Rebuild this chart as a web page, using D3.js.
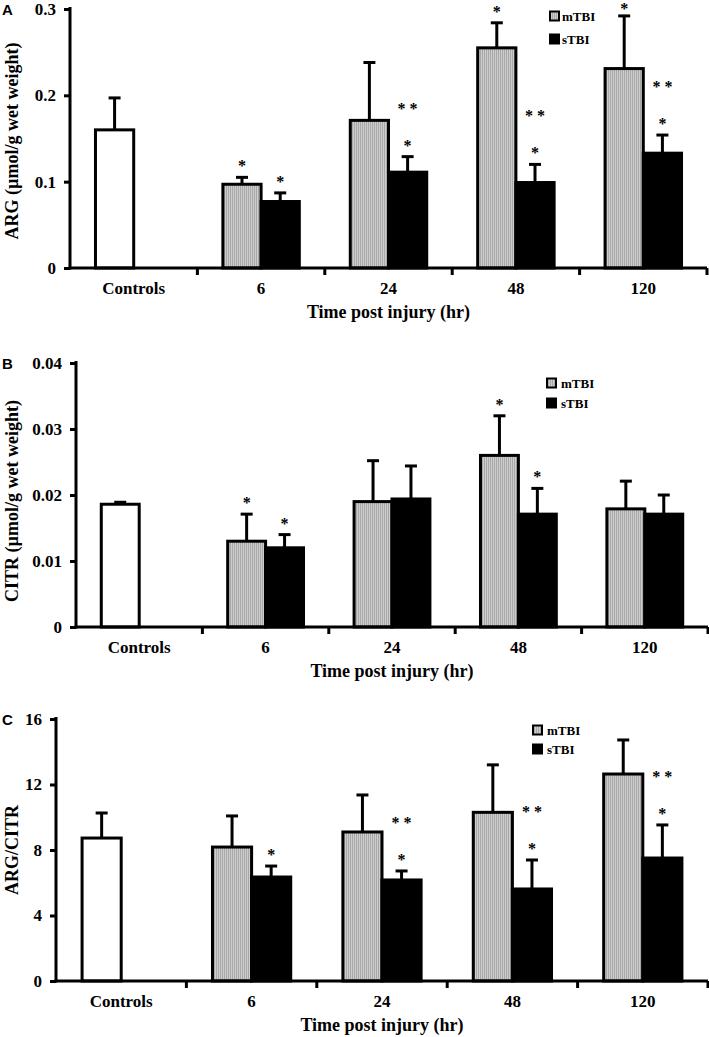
<!DOCTYPE html>
<html>
<head>
<meta charset="utf-8">
<script src="https://cdn.jsdelivr.net/npm/d3@7"></script>
<style>
  html, body { margin: 0; padding: 0; background: #fff; }
  svg { display: block; }
  text { font-family: "Liberation Serif", "Times New Roman", serif; font-weight: bold; fill: #000; }
</style>
</head>
<body>
<svg id="chart" width="709" height="1037"></svg>
<script>
// ---------------- DATA ----------------
const categories = ["Controls", "6", "24", "48", "120"];
const seriesNames = ["mTBI", "sTBI"];
const xTitle = "Time post injury (hr)";

// Panel A: ARG
const argControl = [0.160];
const argControlUpper = [0.197];
const argM = [0.097, 0.171, 0.255, 0.231];
const argMUpper = [0.105, 0.238, 0.284, 0.292];
const argS = [0.077, 0.111, 0.099, 0.133];
const argSUpper = [0.087, 0.129, 0.120, 0.154];
const argMSig = [["*"], [], ["*"], ["*"]];
const argSSig = [["*"], ["*", "**"], ["*", "**"], ["*", "**"]];
const argTicks = [0, 0.1, 0.2, 0.3];
const argTickLabels = ["0", "0.1", "0.2", "0.3"];

// Panel B: CITR
const citrControl = [0.0186];
const citrControlUpper = [0.0189];
const citrM = [0.0130, 0.0190, 0.0260, 0.0179];
const citrMUpper = [0.0171, 0.0252, 0.0320, 0.0221];
const citrS = [0.0120, 0.0194, 0.0171, 0.0171];
const citrSUpper = [0.0140, 0.0244, 0.0210, 0.0200];
const citrMSig = [["*"], [], ["*"], []];
const citrSSig = [["*"], [], ["*"], []];
const citrTicks = [0, 0.01, 0.02, 0.03, 0.04];
const citrTickLabels = ["0", "0.01", "0.02", "0.03", "0.04"];

// Panel C: ARG/CITR
const ratioControl = [8.73];
const ratioControlUpper = [10.26];
const ratioM = [8.18, 9.10, 10.30, 12.64];
const ratioMUpper = [10.08, 11.36, 13.20, 14.72];
const ratioS = [6.35, 6.17, 5.62, 7.51];
const ratioSUpper = [7.02, 6.72, 7.39, 9.53];
const ratioMSig = [[], [], [], []];
const ratioSSig = [["*"], ["*", "**"], ["*", "**"], ["*", "**"]];
const ratioTicks = [0, 4, 8, 12, 16];
const ratioTickLabels = ["0", "4", "8", "12", "16"];

// ---------------- LAYOUT ----------------
const panels = [
  { letter: "A", yLabel: "ARG (\u00B5mol/g wet weight)", yLabelY: 141,
    left: 70, right: 707, bottom: 268, top: 9, max: 0.3,
    ticks: argTicks, tickLabels: argTickLabels,
    ctrl: argControl, ctrlUp: argControlUpper,
    m: argM, mUp: argMUpper, s: argS, sUp: argSUpper, mSig: argMSig, sSig: argSSig,
    legendX: 550, legendY: 16, legendGap: 23, legendTextX: 562, starGap: 37 },
  { letter: "B", yLabel: "CITR (\u00B5mol/g wet weight)", yLabelY: 501,
    left: 76, right: 708, bottom: 627, top: 363, max: 0.04,
    ticks: citrTicks, tickLabels: citrTickLabels,
    ctrl: citrControl, ctrlUp: citrControlUpper,
    m: citrM, mUp: citrMUpper, s: citrS, sUp: citrSUpper, mSig: citrMSig, sSig: citrSSig,
    legendX: 547, legendY: 383, legendGap: 20, legendTextX: 561, starGap: 37 },
  { letter: "C", yLabel: "ARG/CITR", yLabelY: 850,
    left: 56, right: 708, bottom: 981, top: 719, max: 16,
    ticks: ratioTicks, tickLabels: ratioTickLabels,
    ctrl: ratioControl, ctrlUp: ratioControlUpper,
    m: ratioM, mUp: ratioMUpper, s: ratioS, sUp: ratioSUpper, mSig: ratioMSig, sSig: ratioSSig,
    legendX: 533, legendY: 730, legendGap: 19, legendTextX: 547, starGap: 37 }
];

const svg = d3.select("#chart");
const defs = svg.append("defs");
const pat = defs.append("pattern").attr("id", "hatch")
  .attr("patternUnits", "userSpaceOnUse").attr("width", 2).attr("height", 4);
pat.append("rect").attr("width", 2).attr("height", 4).attr("fill", "#cdcdcd");
pat.append("rect").attr("width", 1).attr("height", 4).attr("fill", "#a8a8a8");

const SW = 3;

panels.forEach(p => {
  const g = svg.append("g");
  const x = d3.scaleBand().domain(categories).range([p.left, p.right]).padding(0);
  const y = d3.scaleLinear().domain([0, p.max]).range([p.bottom, p.top]);
  const bw = x.bandwidth() * 0.3;
  const slotX = (cat, i) => x(cat) + x.bandwidth() / 2 - bw + i * bw;

  const bars = [];
  bars.push({ cat: categories[0], slot: 0, v: p.ctrl[0], up: p.ctrlUp[0], fill: "#fff", sig: [] });
  categories.slice(1).forEach((c, i) => {
    bars.push({ cat: c, slot: 0, v: p.m[i], up: p.mUp[i], fill: "url(#hatch)", sig: p.mSig[i] });
    bars.push({ cat: c, slot: 1, v: p.s[i], up: p.sUp[i], fill: "#000", sig: p.sSig[i] });
  });

  // error bars
  bars.forEach(b => {
    const cx = slotX(b.cat, b.slot) + bw / 2;
    g.append("line").attr("x1", cx).attr("x2", cx).attr("y1", y(b.v)).attr("y2", y(b.up))
      .attr("stroke", "#000").attr("stroke-width", SW);
    g.append("line").attr("x1", cx - 6).attr("x2", cx + 6).attr("y1", y(b.up)).attr("y2", y(b.up))
      .attr("stroke", "#000").attr("stroke-width", SW);
  });

  // bars
  g.selectAll("rect.bar").data(bars).enter().append("rect").attr("class", "bar")
    .attr("x", d => slotX(d.cat, d.slot))
    .attr("y", d => y(d.v))
    .attr("width", bw)
    .attr("height", d => y(0) - y(d.v))
    .attr("fill", d => d.fill)
    .attr("stroke", "#000").attr("stroke-width", SW);

  // significance stars
  bars.forEach(b => {
    const cx = slotX(b.cat, b.slot) + bw / 2;
    b.sig.forEach((s, k) => {
      const cy = Math.max(6, y(b.up) - 14 - k * p.starGap);
      g.append("text").attr("x", cx).attr("y", cy + 8)
        .attr("text-anchor", "middle").style("font-size", "16px")
        .text(s === "**" ? "* *" : "*");
    });
  });

  // y axis
  const yAxis = d3.axisLeft(y).tickValues(p.ticks)
    .tickFormat((d, i) => p.tickLabels[i]).tickSize(6).tickSizeOuter(0).tickPadding(8);
  const ya = g.append("g").attr("transform", `translate(${p.left},0)`).call(yAxis);
  ya.select(".domain").attr("stroke-width", SW).attr("d", `M0,${p.bottom + 1.5}V${p.top - 2}`);
  ya.selectAll(".tick line").attr("stroke-width", SW);
  ya.selectAll(".tick text").style("font-size", "17px")
    .style("font-family", '"Liberation Serif", "Times New Roman", serif').style("font-weight", "bold");

  // x axis
  const xAxis = d3.axisBottom(x).tickSize(0).tickPadding(14).tickSizeOuter(0);
  const xa = g.append("g").attr("transform", `translate(0,${p.bottom})`).call(xAxis);
  xa.select(".domain").attr("stroke-width", SW).attr("d", `M${p.left - 1.5},0H${p.right}`);
  xa.selectAll(".tick text").style("font-size", "17px")
    .style("font-family", '"Liberation Serif", "Times New Roman", serif').style("font-weight", "bold");
  g.selectAll("line.xt").data(categories).enter().append("line").attr("class", "xt")
    .attr("x1", d => x(d) + x.bandwidth()).attr("x2", d => x(d) + x.bandwidth())
    .attr("y1", p.bottom).attr("y2", p.bottom + 7)
    .attr("stroke", "#000").attr("stroke-width", SW);

  // x title
  g.append("text").attr("x", (p.left + p.right) / 2).attr("y", p.bottom + 50)
    .attr("text-anchor", "middle").style("font-size", "18px").text(xTitle);

  // y title
  g.append("text").attr("transform", `translate(18,${p.yLabelY}) rotate(-90)`)
    .attr("text-anchor", "middle").style("font-size", "18px").text(p.yLabel);

  // panel letter
  g.append("text").attr("x", 2).attr("y", p.top + 6)
    .style("font-family", '"Liberation Sans", Arial, sans-serif').style("font-size", "15px")
    .text(p.letter);

  // legend
  seriesNames.forEach((n, i) => {
    const ly = p.legendY + i * p.legendGap;
    g.append("rect").attr("x", p.legendX).attr("y", ly - 4.5).attr("width", 9).attr("height", 9)
      .attr("fill", i === 0 ? "url(#hatch)" : "#000").attr("stroke", "#000").attr("stroke-width", 2);
    g.append("text").attr("x", p.legendTextX).attr("y", ly + 5).style("font-size", "13px").text(n);
  });
});
</script>
</body>
</html>
